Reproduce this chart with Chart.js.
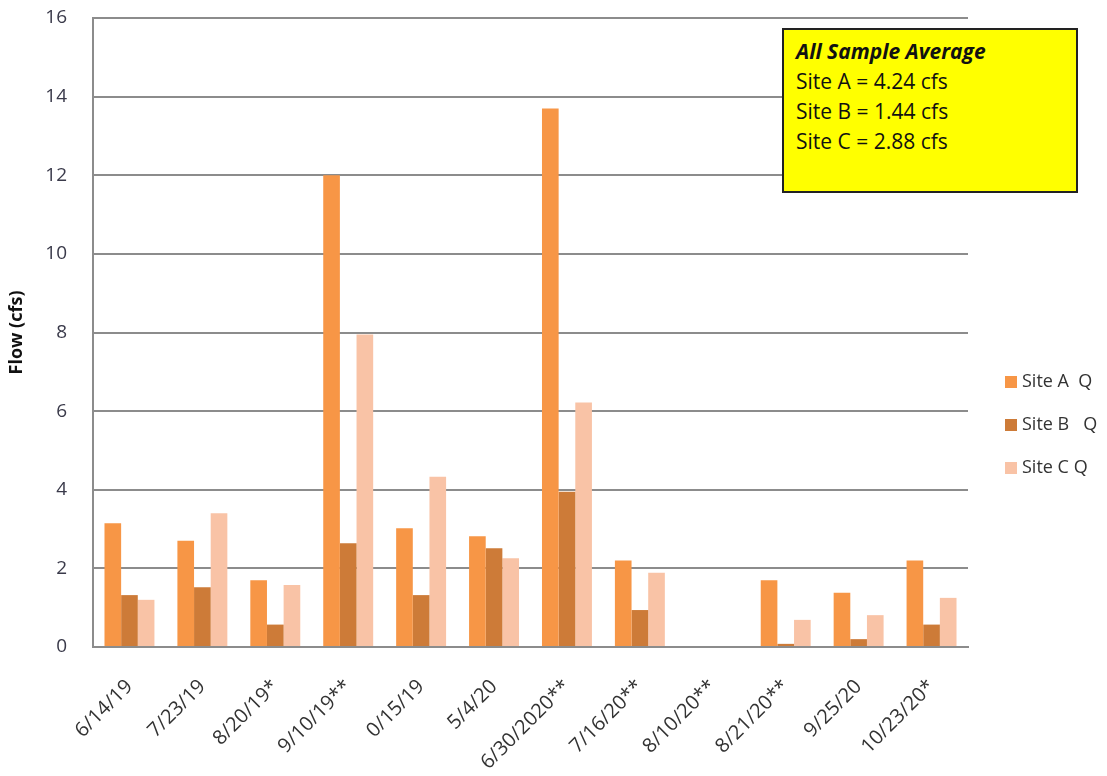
<!DOCTYPE html>
<html>
<head>
<meta charset="utf-8">
<script src="https://cdn.jsdelivr.net/npm/chart.js@4/dist/chart.umd.min.js"></script>
<style>
    html, body { margin: 0; padding: 0; background: #fff; }
    #wrap { position: relative; width: 1107px; height: 776px; }
    #note {
        position: absolute; left: 782px; top: 28px; width: 280px; height: 161px;
        background: #ffff00; border: 2px solid #222;
        font-family: "Open Sans", "Liberation Sans", sans-serif; font-size: 21px; color: #111;
        padding: 0 0 0 12px; box-sizing: content-box;
    }
    #note div { height: 30px; line-height: 30px; white-space: nowrap; }
    #note div:first-child { margin-top: 6px; font-weight: bold; font-style: italic; }
    #legend {
        position: absolute; left: 1005px; top: 368px;
        font-family: "Open Sans", "Liberation Sans", sans-serif; font-size: 18px; color: #333;
    }
    #legend .item { height: 43px; line-height: 24px; white-space: pre; }
    #legend .box { display: inline-block; width: 12px; height: 12px; margin-right: 5px; vertical-align: -1px; }
</style>
</head>
<body>
<div id="wrap">
    <canvas id="chart" width="1107" height="776"></canvas>
    <div id="note">
        <div>All Sample Average</div>
        <div>Site A = 4.24 cfs</div>
        <div>Site B = 1.44 cfs</div>
        <div>Site C = 2.88 cfs</div>
    </div>
    <div id="legend"></div>
</div>
<script>
const sampleDates = ['6/14/19', '7/23/19', '8/20/19*', '9/10/19**', '0/15/19', '5/4/20', '6/30/2020**', '7/16/20**', '8/10/20**', '8/21/20**', '9/25/20', '10/23/20*'];
const siteA = [3.15, 2.7, 1.7, 12.0, 3.02, 2.82, 13.7, 2.2, null, 1.7, 1.38, 2.2];
const siteB = [1.32, 1.52, 0.57, 2.64, 1.32, 2.51, 3.95, 0.94, null, 0.08, 0.2, 0.57];
const siteC = [1.2, 3.4, 1.58, 7.95, 4.33, 2.26, 6.22, 1.89, null, 0.69, 0.81, 1.25];
const seriesNames = ['Site A  Q', 'Site B   Q', 'Site C Q'];
const seriesColors = ['#f79646', '#cd7b38', '#f9c3a6'];

const fontFamily = '"Open Sans", "Liberation Sans", sans-serif';

const chart = new Chart(document.getElementById('chart'), {
    type: 'bar',
    data: {
        labels: sampleDates,
        datasets: [siteA, siteB, siteC].map((values, i) => ({
            label: seriesNames[i],
            data: values,
            backgroundColor: seriesColors[i],
            borderWidth: 0,
            categoryPercentage: 0.685,
            barPercentage: 1.0
        }))
    },
    options: {
        responsive: false,
        animation: false,
        layout: {
            padding: {left: 0, right: 139, top: 18, bottom: 0}
        },
        plugins: {
            legend: {display: false},
            tooltip: {enabled: false}
        },
        scales: {
            x: {
                border: {display: true, color: '#8c8c8c', width: 2},
                grid: {display: false},
                ticks: {
                    color: '#333',
                    font: {family: fontFamily, size: 20},
                    minRotation: 45,
                    maxRotation: 45,
                    autoSkip: false,
                    padding: 20
                },
                afterFit: scale => {
                    scale.height = 129;
                    scale.paddingLeft = 0;
                    scale.paddingRight = 0;
                }
            },
            y: {
                min: 0,
                max: 16,
                border: {display: true, color: '#8c8c8c', width: 2},
                grid: {color: '#8c8c8c', lineWidth: 2, drawTicks: false},
                ticks: {
                    stepSize: 2,
                    color: '#3a3a4a',
                    font: {family: fontFamily, size: 19},
                    padding: 26
                },
                title: {
                    display: true,
                    text: 'Flow (cfs)',
                    color: '#111',
                    font: {family: fontFamily, size: 18, weight: 'bold'},
                    padding: {top: 6, bottom: 0}
                },
                afterFit: scale => {
                    scale.width = 93;
                    scale.paddingTop = 0;
                    scale.paddingBottom = 0;
                }
            }
        }
    }
});

const legendEl = document.getElementById('legend');
chart.data.datasets.forEach(ds => {
    const item = document.createElement('div');
    item.className = 'item';
    const box = document.createElement('span');
    box.className = 'box';
    box.style.background = ds.backgroundColor;
    item.appendChild(box);
    item.appendChild(document.createTextNode(ds.label));
    legendEl.appendChild(item);
});
</script>
</body>
</html>
